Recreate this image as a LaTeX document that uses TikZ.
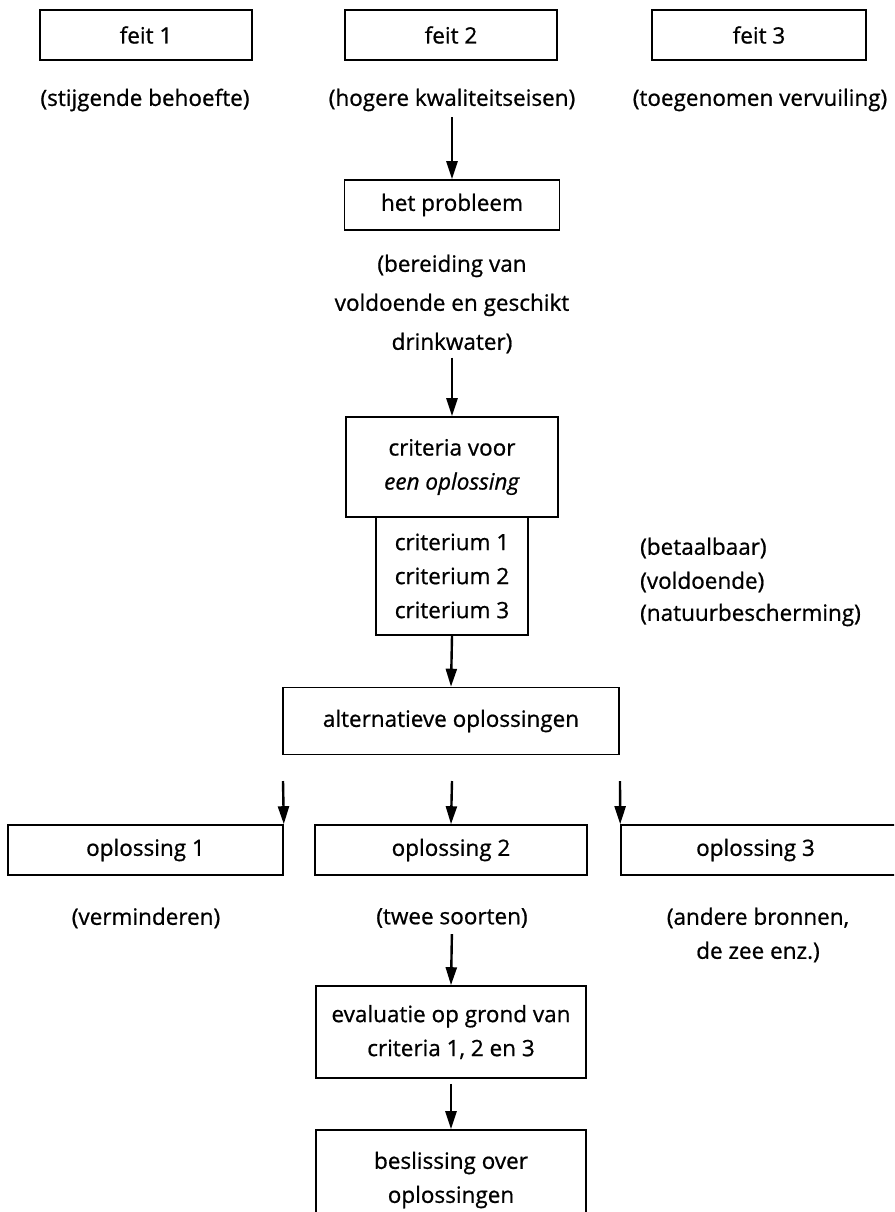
\documentclass[tikz,border=0pt]{standalone}
\usepackage{fontspec}
\setmainfont{Open Sans}[FakeBold=0.8]
\usetikzlibrary{arrows.meta}

\begin{document}
\begin{tikzpicture}[x=1pt,y=-1pt,
	box/.style={draw,line width=1.6pt,inner sep=0pt,align=center},
	lbl/.style={inner sep=0pt,align=center},
	arr/.style={line width=2.4pt,-{Triangle[length=18pt,width=11pt]}},
	font=\fontsize{22.5}{34}\selectfont]
	\useasboundingbox (0,0) rectangle (894,1212);
	\clip (0,0) rectangle (894,1212);

	\node[box,minimum width=212pt,minimum height=50pt] (feit1) at (146,35) {feit 1};
	\node[box,minimum width=212pt,minimum height=50pt] (feit2) at (451,35) {feit 2};
	\node[box,minimum width=214pt,minimum height=50pt] (feit3) at (759,35) {feit 3};
	\node[lbl] (behoefte) at (145,100) {(stijgende behoefte)};
	\node[lbl] (eisen) at (452,100) {(hogere kwaliteitseisen)};
	\node[lbl] (vervuiling) at (760,100) {(toegenomen vervuiling)};

	\node[box,minimum width=215pt,minimum height=50pt] (probleem) at (452,205) {het probleem};
	\node[lbl,font=\fontsize{22.5}{39}\selectfont] (bereiding) at (452,304)
		{(bereiding van\\voldoende en geschikt\\drinkwater)};

	\node[box,minimum width=212pt,minimum height=100pt] (criteria) at (452,467)
		{criteria voor\\\textit{een oplossing}};
	\node[box,minimum width=152pt,minimum height=118pt] (criterium) at (452,576)
		{criterium 1\\criterium 2\\criterium 3};
	\node[lbl,anchor=west] (betaalbaar) at (640,548) {(betaalbaar)};
	\node[lbl,anchor=west] (voldoende) at (640,582) {(voldoende)};
	\node[lbl,anchor=west] (natuur) at (640,615) {(natuurbescherming)};

	\node[box,minimum width=336pt,minimum height=67pt] (alt) at (451,721) {alternatieve oplossingen};
	\node[box,minimum width=275pt,minimum height=50pt] (opl1) at (145.5,850) {oplossing 1};
	\node[box,minimum width=272pt,minimum height=50pt] (opl2) at (451,850) {oplossing 2};
	\node[box,minimum width=279pt,minimum height=50pt] (opl3) at (760.5,850) {\hspace*{-10pt}oplossing 3};
	\node[lbl] (verminderen) at (146,918) {(verminderen)};
	\node[lbl] (soorten) at (452,918) {(twee soorten)};
	\node[lbl] (bronnen) at (758,935) {(andere bronnen,\\de zee enz.)};

	\node[box,minimum width=270pt,minimum height=92pt] (evaluatie) at (451,1032)
		{evaluatie op grond van\\criteria 1, 2 en 3};
	\node[box,minimum width=270pt,minimum height=100pt] (beslissing) at (451,1180)
		{beslissing over\\oplossingen};

	\coordinate (s1) at (283,781);
	\coordinate (s2) at (452,781);
	\coordinate (s3) at (620,781);

	\draw[arr,shorten <=6pt] (eisen.south) -- (probleem.north);
	\draw[arr,shorten <=4pt] (bereiding.south) -- (criteria.north);
	\draw[arr] (criterium.south) -- (alt.north);
	\draw[arr] (s1) -- (opl1.north east);
	\draw[arr] (s2) -- (opl2.north);
	\draw[arr] (s3) -- (opl3.north west);
	\draw[arr,shorten <=6pt] (soorten.south) -- (evaluatie.north);
	\draw[arr,shorten <=5pt] (evaluatie.south) -- (beslissing.north);
\end{tikzpicture}
\end{document}
